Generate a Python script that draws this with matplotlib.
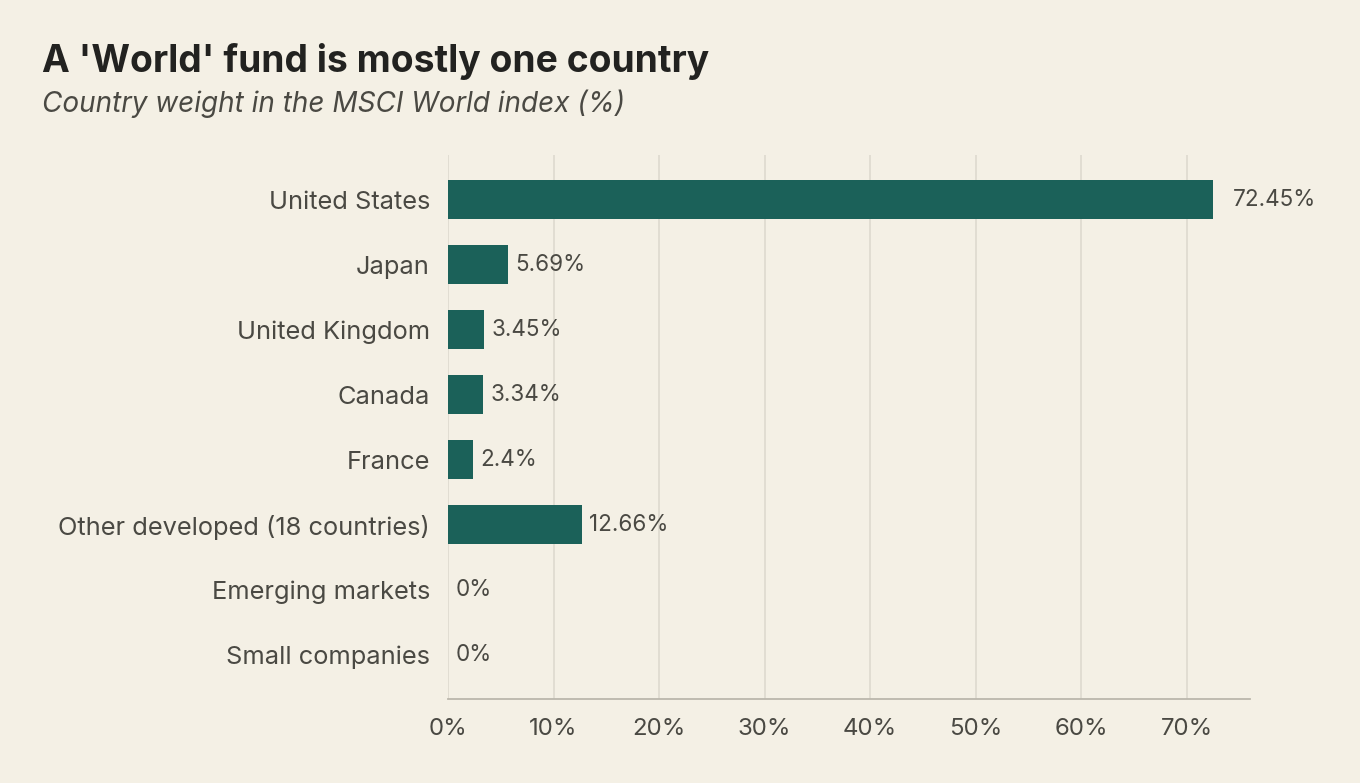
import numpy as np
import matplotlib.pyplot as plt

countries = ["United States", "Japan", "United Kingdom", "Canada", "France",
             "Other developed (18 countries)", "Emerging markets", "Small companies"]
weights = [72.45, 5.69, 3.45, 3.34, 2.4, 12.66, 0, 0]
value_labels = ["72.45%", "5.69%", "3.45%", "3.34%", "2.4%", "12.66%", "0%", "0%"]

bg = "#F4F0E5"
bar_color = "#1B6159"
text_color = "#4A4943"

plt.rcParams['font.family'] = ['Inter', 'DejaVu Sans']

fig = plt.figure(figsize=(13.6, 7.83), dpi=100, facecolor=bg)
ax = fig.add_axes([448 / 1360, 1 - 699 / 783, (1250 - 448) / 1360, (699 - 155) / 783])
ax.set_facecolor(bg)

y = np.arange(len(countries))
ax.barh(y, weights, height=0.6, color=bar_color, zorder=3)
for yi, w, lab in zip(y, weights, value_labels):
    ax.text(w + (1.9 if w > 50 else 0.7), yi, lab, va="center", ha="left",
            fontsize=16.2, color=text_color, zorder=4)

ax.set_xlim(0, 76)
ax.set_ylim(len(countries) - 1 + 0.68, -0.69)
ax.set_xticks(np.arange(0, 80, 10))
ax.set_xticklabels([f"{v}%" for v in range(0, 80, 10)])
ax.set_yticks(y)
ax.set_yticklabels(countries)
ax.tick_params(axis="y", length=0, pad=13, labelsize=18.3, labelcolor=text_color)
ax.tick_params(axis="x", length=0, pad=14, labelsize=17.3, labelcolor=text_color)
ax.grid(axis="x", color="#E0DCD1", linewidth=1.3, zorder=0)
for s in ["top", "right", "left"]:
    ax.spines[s].set_visible(False)
ax.spines["bottom"].set_color("#BBB7AC")
ax.spines["bottom"].set_linewidth(1.3)

fig.text(42 / 1360, 1 - 61 / 783, "A 'World' fund is mostly one country", fontsize=26.8,
         fontweight="bold", color="#222220", va="center", ha="left")
fig.text(42 / 1360, 1 - 104 / 783, "Country weight in the MSCI World index (%)", fontsize=20.1,
         fontstyle="italic", color=text_color, va="center", ha="left")

fig.savefig("out.png", dpi=100, facecolor=bg)
